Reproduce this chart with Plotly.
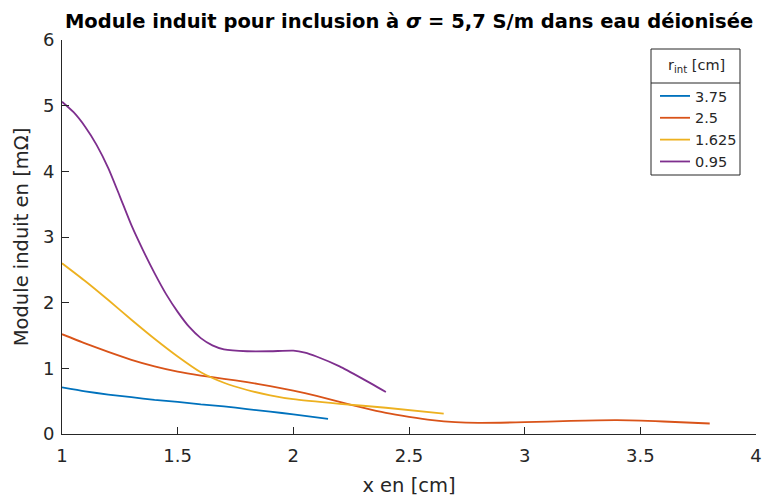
import plotly.graph_objects as go

# r_int values (legend) and curves
r_int = ["3.75", "2.5", "1.625", "0.95"]
colors = ["#0072BD", "#D95319", "#EDB120", "#7E2F8E"]

x_375 = [1.0, 1.1, 1.2, 1.3, 1.4, 1.5, 1.6, 1.7, 1.8, 1.9, 2.0, 2.15]
y_375 = [0.71, 0.65, 0.60, 0.56, 0.52, 0.49, 0.45, 0.42, 0.38, 0.34, 0.30, 0.23]

x_25 = [1.0, 1.1, 1.2, 1.3, 1.4, 1.5, 1.6, 1.7, 1.8, 1.9, 2.0, 2.1, 2.2, 2.3, 2.4,
        2.5, 2.6, 2.7, 2.8, 3.0, 3.2, 3.4, 3.6, 3.8]
y_25 = [1.52, 1.38, 1.25, 1.13, 1.03, 0.95, 0.89, 0.84, 0.79, 0.73, 0.66, 0.58, 0.49, 0.40, 0.32,
        0.26, 0.21, 0.18, 0.17, 0.18, 0.20, 0.21, 0.19, 0.16]

x_1625 = [1.0, 1.1, 1.2, 1.3, 1.4, 1.5, 1.6, 1.7, 1.8, 1.9, 2.0, 2.2, 2.4, 2.65]
y_1625 = [2.60, 2.33, 2.04, 1.74, 1.45, 1.18, 0.94, 0.78, 0.67, 0.59, 0.53, 0.46, 0.40, 0.31]

x_095 = [1.0, 1.05, 1.1, 1.15, 1.2, 1.25, 1.3, 1.35, 1.4, 1.45, 1.5, 1.55, 1.6, 1.65, 1.7,
         1.8, 1.9, 2.0, 2.05, 2.1, 2.2, 2.3, 2.4]
y_095 = [5.06, 4.90, 4.68, 4.40, 4.05, 3.62, 3.18, 2.80, 2.45, 2.13, 1.86, 1.63, 1.46, 1.35, 1.29,
         1.26, 1.26, 1.27, 1.24, 1.18, 1.03, 0.84, 0.64]

series = [(x_375, y_375), (x_25, y_25), (x_1625, y_1625), (x_095, y_095)]

ink = "#262626"
font = "DejaVu Sans, sans-serif"

# plot area in pixels: x 62..756, y 40..434
def px(x):
    return (x - 62) / 694


def py(y):
    return (434 - y) / 394


fig = go.Figure()
for (xs, ys), name, c in zip(series, r_int, colors):
    fig.add_trace(go.Scatter(x=xs, y=ys, name=name, mode="lines",
                             line=dict(color=c, width=1.8, shape="spline", smoothing=0.6)))

axis_common = dict(showline=True, linecolor=ink, linewidth=1, ticks="inside", ticklen=7,
                   tickcolor=ink, showgrid=False, zeroline=False, mirror=False,
                   automargin=False, ticklabeloverflow="allow",
                   tickfont=dict(size=18, color=ink), title_font=dict(size=19.5, color=ink))

fig.update_xaxes(range=[1, 4], tickvals=[1, 1.5, 2, 2.5, 3, 3.5, 4], ticklabelstandoff=5,
                 title_text="x en [cm]", title_standoff=13, **axis_common)
fig.update_yaxes(range=[0, 6], tickvals=[0, 1, 2, 3, 4, 5, 6], ticklabelstandoff=3,
                 title_text="Module induit en [mΩ]", title_standoff=9, **axis_common)

fig.update_layout(
    width=763, height=501,
    margin=dict(l=62, r=7, t=40, b=67),
    plot_bgcolor="white", paper_bgcolor="white",
    font=dict(family=font, color=ink),
    title=dict(text="<b>Module induit pour inclusion à <i>σ</i> = 5,7 S/m dans eau déionisée</b>",
               x=0.5, xanchor="center", xref="paper",
               y=1 - 21 / 501, yanchor="middle", yref="container",
               font=dict(size=19.5, color="black")),
    legend=dict(x=px(655), xanchor="left", y=py(80), yanchor="top",
                borderwidth=0, bgcolor="rgba(0,0,0,0)",
                font=dict(size=14.5, color=ink), tracegroupgap=0),
    shapes=[
        dict(type="rect", xref="paper", yref="paper", layer="below",
             x0=px(651), x1=px(740), y0=py(175), y1=py(49),
             line=dict(color=ink, width=1), fillcolor="white"),
        dict(type="line", xref="paper", yref="paper",
             x0=px(651), x1=px(740), y0=py(83), y1=py(83),
             line=dict(color=ink, width=1)),
    ],
    annotations=[dict(text="r<sub>int</sub> [cm]", xref="paper", yref="paper",
                      x=px(696), y=py(66), xanchor="center", yanchor="middle",
                      showarrow=False, font=dict(size=14.5, color=ink))],
)

fig.write_html("out.html", config={"displayModeBar": False},
               post_script="document.body.style.margin='0';")
